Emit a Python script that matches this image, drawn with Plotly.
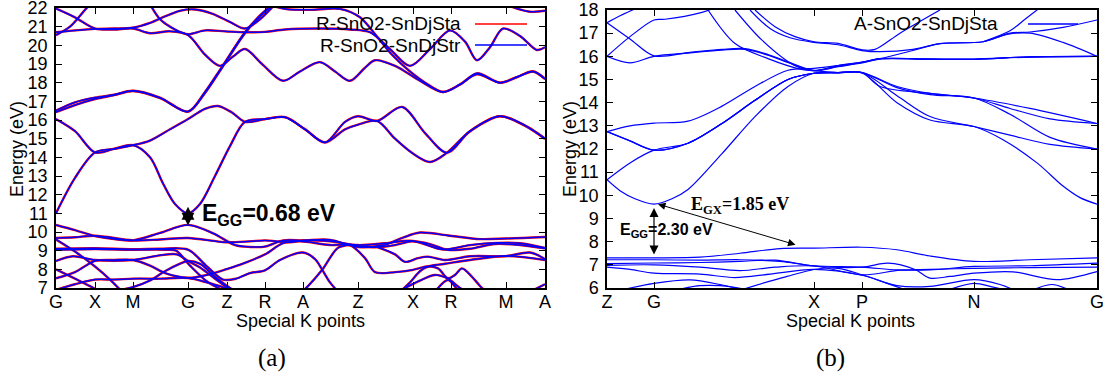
import plotly.graph_objects as go

# ---------------- Panel (a): R-SnO2 ----------------
A_TICK_K = [0, 39, 77, 132, 171, 209, 247, 302, 357, 395, 450, 489]
A_TICK_TEXT = ["G", "X", "M", "G", "Z", "R", "A", "Z", "X", "R", "M", "A"]

A_BANDS_K = [
    [0,19,39,58,77,104,132,157,179,194,209,227,247,274,302,329,347,364,394,424,450,489],
    [0,19,39,77,104,132,170,194,209,234,247,274,302,329,357,387,414,441,464,489],
    [0,19,39,54,66],
    [0,39,77,104,132,151,167,180,194,209,224,247,259,266,274,282],
    [0,39,77,109,120,134,151,166,176],
    [0,17,39,77,104,121,132,144,159,172,180],
    [0,19,34,44],
    [0,19,39,58,77,94,109,132,151,170,189,209,227,244,274,294,309,319,339,356,369,389,414,450,489],
    [0,19,39,58,77,104,132,151,170,184],
    [54,77,94,109,124,132,144,159,174,184],
    [242,252,266,282,294,302,319,339,356,374,392,414,439,464,489],
    [322,339,349,362,372,389,414,450,474,489],
    [344,354,364,372,382,392,399,406,416,426,432],
    [379,392,402,406],
    [474,489],
    [349,364,379,392,404,412],
    [0,19,39,58,77,94,107,119,132,144,159,174,189,209,229,249,269,289,302,321,339,357,374,391,414,444,469,489],
    [0,19,39,58,77,94,114,132,149,162,176,189,209,229,249,269,289,302,321,346,369,391,414,444,469,489],
    [0,19,39,58,77,104,132,149,166,189,204,219],
    [0,19,39,58,77,104,132,149,166,189,204,219],
    [0,19,39,58,77,94,114,132,149,164,177,189,206,227,244,264,279,294,309,319,339,364,387,404,421,444,461,477,489],
    [0,19,39,58,77,94,109,124,139,156,174,189,204,219],
    [0,14,29,39],
    [91,104,119,132,149,169,189,209,229,264,294,314,334,354,374,394,409,421,434,447,464,481,489],
    [206,229,254,284,304,319,336,354,372,387,404,421,444,461,477,489],
    [434,454,474,489],
]
A_BANDS_E = [
    [10.38,10.1,9.78,9.62,9.55,9.95,10.38,9.93,9.3,9.2,9.22,9.55,9.55,9.58,9.2,9.32,9.7,9.97,9.8,9.62,9.65,9.73],
    [9.68,9.72,9.8,9.55,9.6,9.68,9.45,9.5,9.55,9.45,9.55,9.5,9.3,9.4,9.52,9.06,9.3,9.42,9.4,9.15],
    [9.6,8.95,8.15,7.45,6.8],
    [9.1,9.13,9.08,9.1,9.05,8.15,7.45,7.5,7.8,7.95,8.5,8.9,8.55,8.0,7.3,6.8],
    [9.05,9.08,9.05,9.05,9.0,8.2,7.35,6.9,6.6],
    [8.45,8.7,8.5,8.5,8.75,8.8,8.45,8.1,7.5,7.0,6.7],
    [8.0,7.5,7.1,6.8],
    [7.52,7.85,8.45,8.5,8.5,8.2,7.8,7.55,7.7,8.0,8.35,8.8,9.4,9.5,9.3,9.3,8.6,7.85,7.85,7.96,8.14,8.3,8.5,8.71,8.5],
    [6.9,7.2,7.45,7.45,7.5,7.5,7.53,7.3,7.0,6.8],
    [6.8,7.05,7.4,7.9,8.3,8.45,8.3,7.6,7.0,6.7],
    [6.6,7.1,7.96,9.15,9.3,9.25,9.18,9.3,9.5,9.35,9.04,9.1,9.36,9.3,9.12],
    [9.18,8.8,8.4,8.6,8.68,8.5,8.7,8.71,8.9,8.55],
    [6.8,7.3,7.9,8.14,8.05,7.52,7.7,8.05,7.6,7.0,6.8],
    [6.8,7.43,6.9,6.8],
    [6.8,7.2],
    [7.0,7.4,7.7,7.5,7.0,6.8],
    [11.0,12.9,14.26,14.45,14.65,14.0,12.6,11.5,11.0,11.5,13.0,14.6,15.9,16.05,16.15,15.5,14.8,15.5,15.75,15.95,15.0,14.2,13.75,14.25,15.4,16.2,15.7,15.0],
    [16.05,15.4,14.26,14.45,14.65,14.9,15.5,16.05,16.6,16.75,16.4,15.9,16.05,16.15,15.5,14.8,15.9,16.2,15.95,16.7,15.3,14.25,15.4,16.2,15.7,15.0],
    [16.5,16.95,17.2,17.35,17.57,17.2,16.45,17.5,18.85,20.7,21.6,22.3],
    [16.42,16.8,17.12,17.33,17.55,17.17,16.45,17.45,18.8,20.65,21.55,22.25],
    [21.97,21.5,20.9,20.85,20.9,20.65,20.75,20.55,19.5,18.9,19.4,19.8,19.0,18.1,18.6,19.1,18.6,18.1,18.8,19.2,18.9,18.1,17.5,17.9,18.5,18.0,18.3,18.6,18.2],
    [20.7,20.8,20.88,20.9,20.95,21.2,21.55,21.85,21.92,21.7,21.25,20.9,21.4,22.2],
    [20.55,21.0,21.9,22.5],
    [22.5,21.4,20.85,20.6,20.8,20.75,20.7,20.72,20.85,20.9,20.85,20.7,19.8,18.9,19.8,20.8,20.2,19.2,19.9,20.9,20.5,19.75,19.9],
    [22.3,21.95,21.9,21.95,21.5,20.6,19.5,18.6,17.9,17.5,17.9,18.45,18.0,18.3,18.6,18.2],
    [22.6,22.1,21.8,21.85],
]

# ---------------- Panel (b): A-SnO2 ----------------
B_TICK_K = [0, 47, 207, 255, 367, 490]
B_TICK_TEXT = ["Z", "G", "X", "P", "N", "G"]

B_BANDS_K = [
    [0,13,28,47,65,81,115,148,181,207,231,255,290,323,367,396,430,456,473,490],
    [0,23,47,81,115,148,181,207,231,255,290,323,367,403,443,490],
    [0,23,47,81,115,148,181,207,231,255,290,323,367,403,443,490],
    [0,23,47,81,115,148,181,207,231,255,290,323,367,403,443,490],
    [0,23,47,81,115,148,181,207,231,255,273,323,367,423,490],
    [0,23,47,83,115,138,161,183,207,231,255,273,323,367,423,490],
    [0,23,47,83,115,138,161,183,207,231,255,273,323,367,423,490],
    [0,23,47,58,95,105],
    [0,13,28],
    [101,128,161,193,207,231,255,273,323,367,423,490],
    [128,155,188,207,231,255,273,306,333,376,400,423,456,490],
    [148,168,188,207,231,255,268,293,333],
    [143,163,183,207,231,255,273,306,333,376,403,423,456,490],
    [376,403,418,433],
    [0,47,93,133,173,207,255,290,323,367,423,490],
    [0,47,93,133,173,207,255,290,323,367,423,490],
    [0,47,93,133,168,207,255,281,308,323,343,367,406,450,490],
    [0,47,93,133,168,207,255,293,323,367,423,490],
    [0,23,47,93,128,163,207,255,290,323,367,393,405],
    [13,47,83,113,133],
    [73,93,113,138],
    [135,163,180,207,231,255,280,300],
    [340,367,385,400],
    [425,445,463],
]
B_BANDS_E = [
    [10.67,10.2,9.85,9.62,9.85,10.25,11.8,13.4,14.7,15.27,15.28,15.28,14.0,13.25,12.97,12.4,11.4,10.4,9.9,9.62],
    [12.75,12.35,11.95,12.25,13.1,14.1,15.0,15.27,15.3,15.3,14.7,14.4,14.2,13.75,13.3,13.1],
    [12.75,12.35,11.95,12.25,13.1,14.1,15.0,15.27,15.3,15.3,14.65,14.35,14.2,13.5,12.5,12.0],
    [10.67,11.4,11.95,12.25,13.1,14.1,15.0,15.27,15.3,15.3,14.3,13.4,12.97,12.6,12.2,12.0],
    [12.75,13.0,13.12,13.2,13.85,14.7,15.4,15.48,15.6,15.74,15.9,15.88,15.87,15.98,16.0],
    [16.0,15.72,16.0,16.15,16.27,16.3,16.05,15.7,15.38,15.55,15.72,15.88,15.87,15.87,15.97,16.0],
    [17.45,16.75,16.02,16.17,16.3,16.33,16.08,15.73,15.4,15.57,15.74,15.9,15.89,15.88,15.98,16.0],
    [16.0,16.85,17.57,17.6,17.9,18.05],
    [17.45,17.75,18.05],
    [18.0,16.55,15.9,15.45,15.38,15.3,15.3,14.7,14.4,14.2,13.75,13.1],
    [18.0,16.7,15.6,15.38,15.6,15.75,15.9,16.25,16.55,16.63,16.95,17.0,16.6,16.0],
    [18.0,17.28,16.85,16.63,16.56,16.28,16.3,17.0,18.0],
    [18.0,17.2,16.8,16.6,16.5,16.25,16.2,16.3,16.55,16.63,17.0,17.05,17.25,17.57],
    [16.63,17.1,17.6,18.1],
    [7.3,7.3,7.33,7.5,7.7,7.72,7.76,7.65,7.38,7.15,7.22,7.3],
    [7.22,7.22,7.2,7.22,7.15,6.96,6.9,6.78,6.78,6.93,6.96,7.07],
    [7.05,7.08,7.1,7.15,7.2,6.95,6.9,7.07,6.8,6.43,6.5,6.64,6.7,6.36,6.71],
    [6.98,7.0,6.9,6.75,6.9,6.95,6.57,6.77,6.8,6.85,6.88,6.9],
    [6.9,6.8,6.64,6.6,6.45,6.6,6.8,6.55,6.1,6.07,6.36,6.15,5.95],
    [5.9,6.2,6.35,6.15,5.95],
    [5.95,6.1,6.1,5.95],
    [5.93,6.3,6.5,6.8,6.85,6.57,6.2,5.9],
    [5.9,6.2,6.05,5.9],
    [5.9,6.15,5.9],
]

SERIES_A = ["R-SnO2-SnDjSta", "R-SnO2-SnDjStr"]
SERIES_B = ["A-SnO2-SnDjSta"]

W, H = 1106, 380
def px(x): return x / W
def py(y): return 1 - y / H

fig = go.Figure()

# panel a: red (Sta) beneath, blue (Str) on top
for color, width in (("#ff0000", 2.4), ("#0000ff", 1.5)):
    for k, e in zip(A_BANDS_K, A_BANDS_E):
        fig.add_trace(go.Scatter(x=k, y=e, mode="lines", xaxis="x", yaxis="y",
                                 line=dict(color=color, width=width, shape="spline", smoothing=0.9),
                                 showlegend=False, hoverinfo="skip"))
for k, e in zip(B_BANDS_K, B_BANDS_E):
    fig.add_trace(go.Scatter(x=k, y=e, mode="lines", xaxis="x2", yaxis="y2",
                             line=dict(color="#0000ff", width=1.2, shape="spline", smoothing=0.9),
                             showlegend=False, hoverinfo="skip"))

FONT = "Liberation Sans, Arial, sans-serif"
axis_common = dict(showline=True, linecolor="black", linewidth=1.5, mirror="ticks",
                   ticks="inside", ticklen=6, tickwidth=1, tickcolor="black",
                   showgrid=False, zeroline=False, automargin=False,
                   ticklabeloverflow="allow",
                   tickfont=dict(family=FONT, size=18, color="black"))

top, bottom = py(8), py(288)
fig.update_layout(
    width=W, height=H, margin=dict(l=0, r=0, t=0, b=0, pad=0, autoexpand=False),
    paper_bgcolor="white", plot_bgcolor="white", showlegend=False,
    xaxis=dict(domain=[px(56), px(545)], range=[A_TICK_K[0], A_TICK_K[-1]],
               tickvals=A_TICK_K, ticktext=A_TICK_TEXT, anchor="y",
               ticklabelstandoff=-3, **axis_common),
    yaxis=dict(domain=[bottom, top], range=[7, 22], dtick=1, tick0=7, anchor="x",
               ticklabelstandoff=3, **axis_common),
    xaxis2=dict(domain=[px(607), px(1097)], range=[B_TICK_K[0], B_TICK_K[-1]],
                tickvals=B_TICK_K, ticktext=B_TICK_TEXT, anchor="y2",
                ticklabelstandoff=-3, **axis_common),
    yaxis2=dict(domain=[bottom, py(10)], range=[6, 18], dtick=1, tick0=6, anchor="x2",
                ticklabelstandoff=3, **axis_common),
)

ann = []
txt = dict(family=FONT, size=18, color="black")
for cx in (300, 851):
    ann.append(dict(text="Special K points", x=px(cx), y=py(321), xref="paper", yref="paper",
                    showarrow=False, font=txt, xanchor="center", yanchor="middle"))
for cx in (17, 570):
    ann.append(dict(text="Energy (eV)", x=px(cx), y=py(149), xref="paper", yref="paper",
                    showarrow=False, font=txt, textangle=-90, xanchor="center", yanchor="middle"))
for cx, lab in ((272, "(a)"), (830, "(b)")):
    ann.append(dict(text=lab, x=px(cx), y=py(358), xref="paper", yref="paper", showarrow=False,
                    font=dict(family="Liberation Serif, serif", size=25, color="black"),
                    xanchor="center", yanchor="middle"))

# legends (gnuplot style: text then line sample)
leg_font = dict(family=FONT, size=19, color="black")
ann.append(dict(text=SERIES_A[0], x=px(463), y=py(24), xref="paper", yref="paper",
                showarrow=False, font=leg_font, xanchor="right", yanchor="middle"))
ann.append(dict(text=SERIES_A[1], x=px(463), y=py(45), xref="paper", yref="paper",
                showarrow=False, font=leg_font, xanchor="right", yanchor="middle"))
ann.append(dict(text=SERIES_B[0], x=px(852), y=py(24), xref="paper", yref="paper",
                showarrow=False, font=leg_font, xanchor="left", yanchor="middle"))
shapes = [
    dict(type="line", xref="paper", yref="paper", x0=px(475), x1=px(527), y0=py(24), y1=py(24),
         line=dict(color="#ff0000", width=1.5)),
    dict(type="line", xref="paper", yref="paper", x0=px(475), x1=px(527), y0=py(45), y1=py(45),
         line=dict(color="#0000ff", width=1.5)),
    dict(type="line", xref="paper", yref="paper", x0=px(1028), x1=px(1078), y0=py(24), y1=py(24),
         line=dict(color="#0000ff", width=1.5)),
]

# gap annotations, panel a
ann.append(dict(text="<b>E<sub>GG</sub>=0.68 eV</b>", x=144, y=10.95, xref="x", yref="y",
                showarrow=False, xanchor="left", yanchor="middle",
                font=dict(family=FONT, size=23, color="black")))
ann.append(dict(text="", x=132, y=11.35, ax=132, ay=10.27, xref="x", yref="y", axref="x", ayref="y",
                showarrow=True, arrowhead=2, arrowside="end+start", arrowsize=1.35, arrowwidth=1.9,
                arrowcolor="black"))
# panel b
ann.append(dict(text="<b>E<sub>GX</sub>=1.85 eV</b>", x=82, y=9.58, xref="x2", yref="y2",
                showarrow=False, xanchor="left", yanchor="middle",
                font=dict(family="Liberation Serif, serif", size=18, color="black")))
ann.append(dict(text="<b>E<sub>GG</sub>=2.30 eV</b>", x=11, y=8.5, xref="x2", yref="y2",
                showarrow=False, xanchor="left", yanchor="middle",
                font=dict(family=FONT, size=16, color="black")))
ann.append(dict(text="", x=47, y=9.45, ax=47, ay=7.38, xref="x2", yref="y2", axref="x2", ayref="y2",
                showarrow=True, arrowhead=2, arrowside="end+start", arrowsize=1.5, arrowwidth=1.2,
                arrowcolor="black"))
ann.append(dict(text="", x=51, y=9.62, ax=190, ay=7.85, xref="x2", yref="y2", axref="x2", ayref="y2",
                showarrow=True, arrowhead=2, arrowside="end+start", arrowsize=1.5, arrowwidth=1.0,
                arrowcolor="black"))

fig.update_layout(annotations=ann, shapes=shapes)
fig.write_html("out.html", config={"displayModeBar": False},
               post_script="document.body.style.margin='0';document.body.style.overflow='hidden';")
